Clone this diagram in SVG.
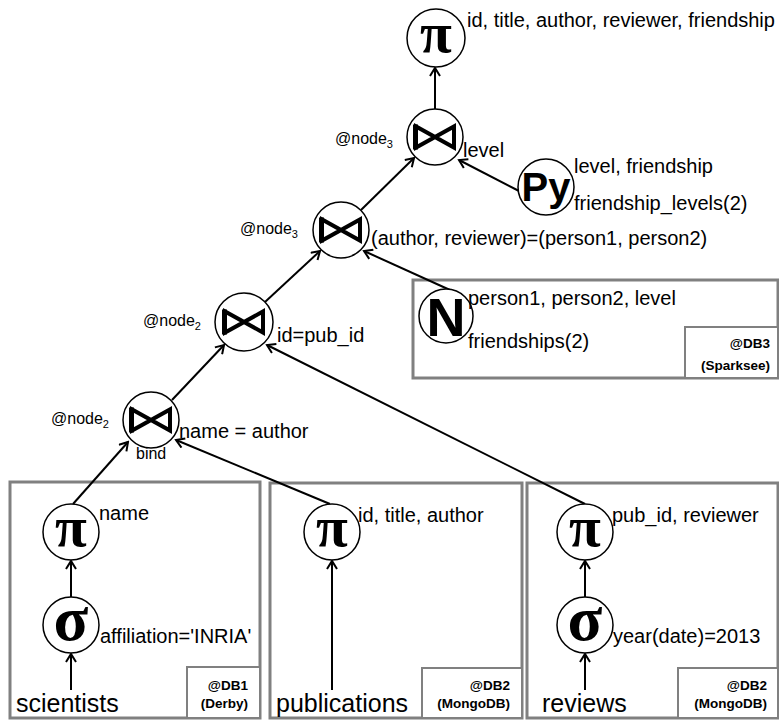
<svg xmlns="http://www.w3.org/2000/svg" width="779" height="720" viewBox="0 0 779 720">
<defs>
<style>
.c{fill:#fff;stroke:#000;stroke-width:1.5}
.t{font-family:"Liberation Sans",Arial,sans-serif;font-size:20px;fill:#000}
.n{font-family:"Liberation Sans",Arial,sans-serif;font-size:16px;fill:#000}
.db{font-family:"Liberation Sans",Arial,sans-serif;font-weight:bold;font-size:13.5px;text-anchor:end;fill:#000}
.big{font-family:"Liberation Sans",Arial,sans-serif;font-size:25px;fill:#000}
.box{fill:none;stroke:#808080;stroke-width:3}
.ibox{fill:#fff;stroke:#808080;stroke-width:2}
.e{stroke:#000;stroke-width:2;fill:none;marker-end:url(#a)}
.bt{fill:none;stroke:#000;stroke-width:4;stroke-linejoin:miter}
.gk{font-family:"Liberation Serif","Times New Roman",serif;font-weight:bold;text-anchor:middle;fill:#000}
.ss{font-family:"Liberation Sans",Arial,sans-serif;font-weight:bold;text-anchor:middle;fill:#000}
</style>
<marker id="a" markerWidth="12" markerHeight="12" refX="10" refY="6" orient="auto" markerUnits="userSpaceOnUse">
<path d="M2,1 L10,6 L2,11" fill="none" stroke="#000" stroke-width="2"/>
</marker>
<g id="bow"><path class="bt" d="M-19,-10.5 L-19,10.5 L19,-10.5 L19,10.5 Z"/><rect x="-22" y="-12.5" width="5" height="25" fill="#000"/></g>
</defs>
<rect width="779" height="720" fill="#fff"/>

<g id="boxes">
<rect class="box" x="10" y="482" width="250" height="236"/>
<rect class="ibox" x="187" y="667" width="73" height="51"/>
<rect class="box" x="270" y="483" width="252" height="235"/>
<rect class="ibox" x="422" y="668" width="100" height="50"/>
<rect class="box" x="527" y="483" width="251" height="235"/>
<rect class="ibox" x="678" y="668" width="100" height="50"/>
<rect class="box" x="413" y="280" width="365" height="98"/>
<rect class="ibox" x="685" y="327" width="93" height="51"/>
<text class="db" x="248" y="690">@DB1</text>
<text class="db" x="248" y="708">(Derby)</text>
<text class="db" x="510" y="690">@DB2</text>
<text class="db" x="510" y="708">(MongoDB)</text>
<text class="db" x="767" y="690">@DB2</text>
<text class="db" x="767" y="708">(MongoDB)</text>
<text class="db" x="770" y="348">@DB3</text>
<text class="db" x="770" y="370">(Sparksee)</text>
</g>

<g id="connectors">
<line class="e" x1="435" y1="109" x2="435" y2="68"/>
<line class="e" x1="361" y1="210" x2="414" y2="158"/>
<line class="e" x1="519" y1="191" x2="459" y2="160"/>
<line class="e" x1="450" y1="290" x2="364" y2="251"/>
<line class="e" x1="265" y1="302" x2="320" y2="251"/>
<line class="e" x1="172" y1="400" x2="224" y2="345"/>
<line class="e" x1="585" y1="504" x2="267" y2="345"/>
<line class="e" x1="73" y1="504" x2="128" y2="442"/>
<line class="e" x1="330" y1="504" x2="176" y2="440"/>
<line class="e" x1="71" y1="597" x2="71" y2="561"/>
<line class="e" x1="71" y1="690" x2="71" y2="654"/>
<line class="e" x1="332" y1="690" x2="332" y2="561"/>
<line class="e" x1="585" y1="597" x2="585" y2="561"/>
<line class="e" x1="585" y1="690" x2="585" y2="654"/>
</g>

<g id="proj-top">
<circle class="c" cx="436" cy="38" r="29"/>
<text class="gk" x="436" y="52" font-size="58">π</text>
<text class="t" x="467" y="27">id, title, author, reviewer, friendship</text>
</g>

<g id="join3">
<circle class="c" cx="435" cy="137" r="28"/>
<use href="#bow" x="435" y="137"/>
<text class="n" x="335" y="144">@node<tspan font-size="11" dy="4">3</tspan></text>
<text class="t" x="463" y="157">level</text>
</g>

<g id="py">
<circle class="c" cx="546" cy="187" r="28"/>
<text class="ss" x="546" y="201" font-size="40">Py</text>
<text class="t" x="574" y="173">level, friendship</text>
<text class="t" x="574" y="210">friendship_levels(2)</text>
</g>

<g id="join2">
<circle class="c" cx="341" cy="230" r="28"/>
<use href="#bow" x="341" y="230"/>
<text class="n" x="240" y="234">@node<tspan font-size="11" dy="4">3</tspan></text>
<text class="t" x="371" y="245">(author, reviewer)=(person1, person2)</text>
</g>

<g id="neo">
<circle class="c" cx="446" cy="316" r="27"/>
<text class="ss" x="446" y="336" font-size="54">N</text>
<text class="t" x="468" y="305">person1, person2, level</text>
<text class="t" x="468" y="348">friendships(2)</text>
</g>

<g id="join1">
<circle class="c" cx="244" cy="322" r="29"/>
<use href="#bow" x="244" y="322"/>
<text class="n" x="143" y="326">@node<tspan font-size="11" dy="4">2</tspan></text>
<text class="t" x="277" y="342">id=pub_id</text>
</g>

<g id="join0">
<circle class="c" cx="151" cy="420" r="28"/>
<use href="#bow" x="151" y="420"/>
<text class="n" x="51" y="424">@node<tspan font-size="11" dy="4">2</tspan></text>
<text class="t" x="179" y="438">name = author</text>
<text class="n" x="136" y="459">bind</text>
</g>

<g id="proj-sci">
<circle class="c" cx="71" cy="532" r="28"/>
<text class="gk" x="71" y="546" font-size="58">π</text>
<text class="t" x="99" y="520">name</text>
</g>
<g id="sel-sci">
<circle class="c" cx="71" cy="625" r="28"/>
<text class="gk" x="71" y="640" font-size="64">σ</text>
<text class="t" x="100" y="643">affiliation='INRIA'</text>
</g>
<g id="scientists"><text class="big" x="16" y="712">scientists</text></g>

<g id="proj-pub">
<circle class="c" cx="332" cy="532" r="28"/>
<text class="gk" x="332" y="546" font-size="58">π</text>
<text class="t" x="358" y="522">id, title, author</text>
</g>
<g id="publications"><text class="big" x="276" y="712">publications</text></g>

<g id="proj-rev">
<circle class="c" cx="585" cy="532" r="28"/>
<text class="gk" x="585" y="546" font-size="58">π</text>
<text class="t" x="612" y="522">pub_id, reviewer</text>
</g>
<g id="sel-rev">
<circle class="c" cx="585" cy="625" r="28"/>
<text class="gk" x="585" y="640" font-size="64">σ</text>
<text class="t" x="613" y="643">year(date)=2013</text>
</g>
<g id="reviews"><text class="big" x="542" y="712">reviews</text></g>
</svg>
